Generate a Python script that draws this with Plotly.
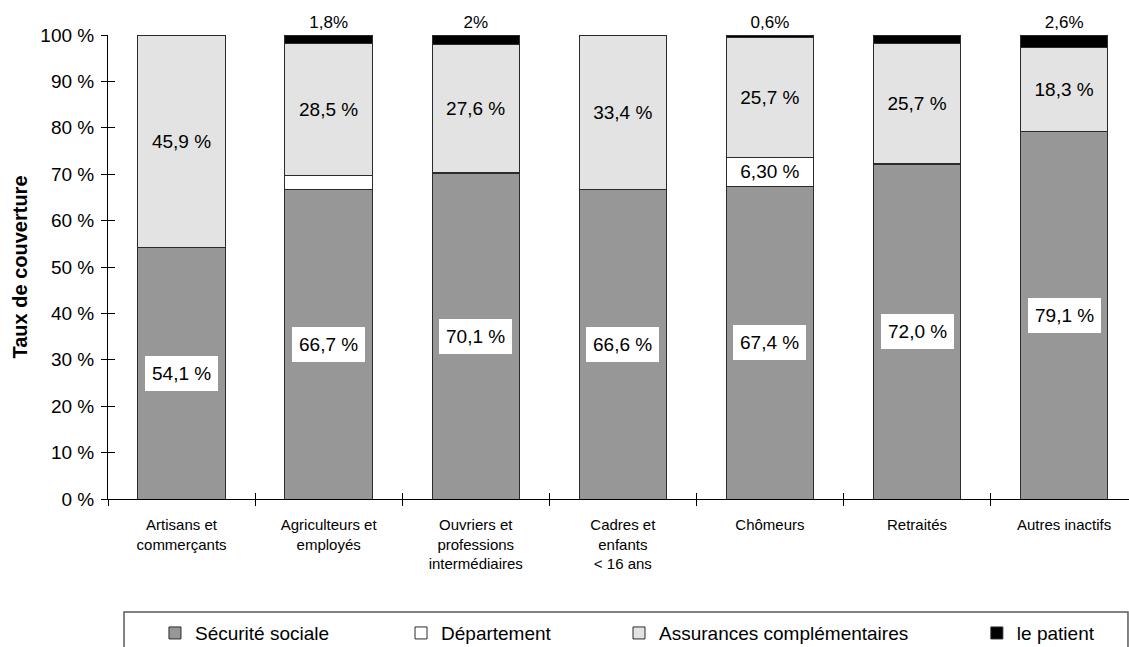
import plotly.graph_objects as go

# Catégories socio-professionnelles (axe des abscisses)
categories = [
    "Artisans et<br>commerçants",
    "Agriculteurs et<br>employés",
    "Ouvriers et<br>professions<br>intermédiaires",
    "Cadres et<br>enfants<br>&lt; 16 ans",
    "Chômeurs",
    "Retraités",
    "Autres inactifs",
]

# Parts de la dépense couvertes par chaque financeur (en %)
securite_sociale = [54.1, 66.7, 70.1, 66.6, 67.4, 72.0, 79.1]
departement = [0.0, 3.0, 0.3, 0.0, 6.3, 0.4, 0.0]
assurances = [45.9, 28.5, 27.6, 33.4, 25.7, 25.7, 18.3]
patient = [0.0, 1.8, 2.0, 0.0, 0.6, 1.9, 2.6]
departement_affiche = [False, False, False, False, True, False, False]

y_ticks = [0, 10, 20, 30, 40, 50, 60, 70, 80, 90, 100]

FONT = "Liberation Sans, Arial, sans-serif"
EDGE = "#2b2b2b"


def fr(v, dec):
    return f"{v:.{dec}f}".replace(".", ",")


fig = go.Figure()

bar_common = dict(width=0.594, constraintext="none", textangle=0, cliponaxis=False)

fig.add_trace(go.Bar(
    name="Sécurité sociale", x=categories, y=securite_sociale,
    marker=dict(color="#979797", line=dict(color=EDGE, width=1)),
    legend="legend", **bar_common,
))
fig.add_trace(go.Bar(
    name="Département", x=categories, y=departement,
    marker=dict(color="#ffffff", line=dict(color=EDGE, width=1)),
    text=[fr(v, 2) + " %" if show else "" for v, show in zip(departement, departement_affiche)],
    textposition="inside", insidetextanchor="middle",
    textfont=dict(family=FONT, size=19, color="black"),
    legend="legend2", **bar_common,
))
fig.add_trace(go.Bar(
    name="Assurances complémentaires", x=categories, y=assurances,
    marker=dict(color="#e3e3e3", line=dict(color=EDGE, width=1)),
    text=[fr(v, 1) + " %" for v in assurances],
    textposition="inside", insidetextanchor="middle",
    textfont=dict(family=FONT, size=19, color="black"),
    legend="legend3", **bar_common,
))
fig.add_trace(go.Bar(
    name="le patient", x=categories, y=patient,
    marker=dict(color="#000000", line=dict(color=EDGE, width=1)),
    text=[(f"{v:g}".replace(".", ",") + "%") if v > 0 else "" for v in patient],
    textposition="outside",
    textfont=dict(family=FONT, size=17, color="black"),
    legend="legend4", **bar_common,
))

# Axes secondaires superposés : graduations vers l'intérieur
fig.add_trace(go.Scatter(x=[], y=[], xaxis="x2", yaxis="y2", showlegend=False, hoverinfo="skip"))

# Étiquettes encadrées de la part Sécurité sociale
for cat, v in zip(categories, securite_sociale):
    fig.add_annotation(
        x=cat, y=v / 2, text=fr(v, 1) + " %", showarrow=False,
        bgcolor="white", borderpad=7, borderwidth=0,
        font=dict(family=FONT, size=19, color="black"),
    )

x_range = [-0.5, 6.441]

legend_common = dict(
    orientation="h", yanchor="middle", y=-0.289, xanchor="left",
    bgcolor="rgba(0,0,0,0)", borderwidth=0,
    font=dict(family=FONT, size=19, color="black"),
)

fig.update_layout(
    width=1129, height=647,
    margin=dict(l=108, r=0, t=35, b=148, autoexpand=False),
    paper_bgcolor="white", plot_bgcolor="white",
    barmode="stack",
    font=dict(family=FONT, color="black"),
    xaxis=dict(
        type="category", range=x_range, automargin=False,
        showline=True, linecolor="black", linewidth=1,
        ticks="outside", ticklen=6, tickcolor="black", tickwidth=1,
        tickson="boundaries", showgrid=False, zeroline=False,
        ticklabelstandoff=12,
        tickfont=dict(family=FONT, size=15, color="black"),
    ),
    xaxis2=dict(
        overlaying="x", anchor="y2", range=x_range, automargin=False,
        tickvals=[0.5, 1.5, 2.5, 3.5, 4.5, 5.5],
        ticks="inside", ticklen=6, tickcolor="black", tickwidth=1,
        showticklabels=False, showline=False, showgrid=False, zeroline=False,
    ),
    yaxis=dict(
        range=[0, 100], tickmode="array", tickvals=y_ticks, automargin=False,
        ticktext=[f"{v} %" for v in y_ticks],
        showline=True, linecolor="black", linewidth=1,
        ticks="outside", ticklen=6, tickcolor="black", tickwidth=1,
        showgrid=False, zeroline=False,
        ticklabelstandoff=3,
        tickfont=dict(family=FONT, size=19, color="black"),
        title=dict(text="Taux de couverture", standoff=7,
                   font=dict(family=FONT, size=20, color="black", weight="bold")),
    ),
    yaxis2=dict(
        overlaying="y", anchor="x2", range=[0, 100], tickvals=y_ticks, automargin=False,
        ticks="inside", ticklen=7, tickcolor="black", tickwidth=1,
        showticklabels=False, showline=False, showgrid=False, zeroline=False,
    ),
    legend=dict(x=0.046, **legend_common),
    legend2=dict(x=0.287, **legend_common),
    legend3=dict(x=0.5005, **legend_common),
    legend4=dict(x=0.851, **legend_common),
    showlegend=True,
)

# Cadre de la légende
fig.add_shape(
    type="rect", xref="paper", yref="paper",
    x0=0.0157, x1=0.999, y0=-0.60, y1=-0.2435,
    line=dict(color="#5a5a5a", width=1.5), fillcolor="rgba(0,0,0,0)", layer="above",
)

fig.write_html("out.html")
